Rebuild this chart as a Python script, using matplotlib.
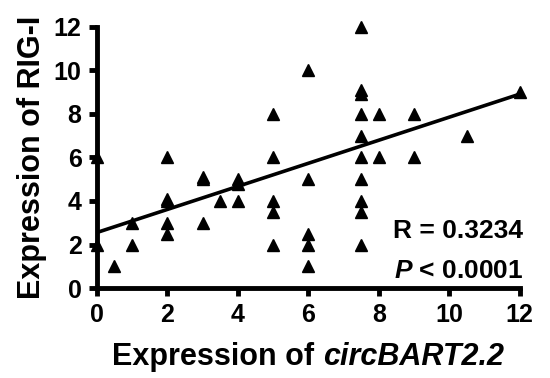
import matplotlib
matplotlib.use("Agg")
import numpy as np
import matplotlib.pyplot as plt

plt.rcParams['font.family'] = ['Liberation Sans', 'DejaVu Sans']
plt.rcParams['font.weight'] = 'bold'
plt.rcParams['mathtext.fontset'] = 'custom'
plt.rcParams['mathtext.it'] = 'Liberation Sans:italic:bold'
plt.rcParams['mathtext.rm'] = 'Liberation Sans:bold'

# expression values
circ_bart = [0, 0, 0.5, 1, 1, 2, 2, 2, 2, 2, 3, 3, 3, 3.5, 4, 4, 4, 5, 5, 5, 5, 5,
             6, 6, 6, 6, 6, 7.5, 7.5, 7.5, 7.5, 7.5, 7.5, 7.5, 7.5, 7.5, 7.5,
             8, 8, 9, 9, 10.5, 12]
rig_i = [6, 2, 1, 3, 2, 6, 4, 4.1, 3, 2.5, 5, 5.1, 3, 4, 5, 4.8, 4, 8, 6, 4, 3.5, 2,
         10, 5, 2.5, 2, 1, 12, 9.1, 8.9, 8, 7, 6, 5, 4, 3.5, 2,
         8, 6, 8, 6, 7, 9]

# regression line as drawn in the figure
fit_intercept = 2.55
fit_slope = 0.53

fig, ax = plt.subplots(figsize=(5.5, 3.78), dpi=100)
fig.subplots_adjust(left=0.176, right=0.945, bottom=0.238, top=0.929)

ax.plot(circ_bart, rig_i, '^', color='black', markersize=9, clip_on=False, zorder=3)

xs = np.array([0, 12])
ax.plot(xs, fit_slope * xs + fit_intercept, color='black', linewidth=2.6, zorder=2)

ax.set_xlim(0, 12)
ax.set_ylim(0, 12)
ax.set_xticks(range(0, 13, 2))
ax.set_yticks(range(0, 13, 2))
for s in ['top', 'right']:
    ax.spines[s].set_visible(False)
for s in ['left', 'bottom']:
    ax.spines[s].set_linewidth(3.5)
    ax.spines[s].set_zorder(4)
ax.tick_params(width=3.5, length=6, labelsize=18, pad=5)
for lab in ax.get_xticklabels() + ax.get_yticklabels():
    lab.set_fontweight('bold')

ax.set_ylabel("Expression of RIG-I", fontsize=22, fontweight='bold', labelpad=5)

# x label in two parts: upright + bold italic gene name
t1 = fig.text(0, 0.035, "Expression of ", fontsize=22, fontweight='bold', va='baseline')
t2 = fig.text(0, 0.035, "circBART2.2", fontsize=22, fontweight='bold', style='italic', va='baseline')
fig.canvas.draw()
r = fig.canvas.get_renderer()
w1 = t1.get_window_extent(r).width / fig.bbox.width
w2 = t2.get_window_extent(r).width / fig.bbox.width
x0 = (0.176 + 0.945) / 2 - (w1 + w2) / 2
t1.set_x(x0)
t2.set_x(x0 + w1)

ax.text(12.1, 2.6, "R = 0.3234", fontsize=19, fontweight='bold', ha='right', va='center')
ax.text(12.1, 0.78, "$\\it{P}$ < 0.0001", fontsize=19, fontweight='bold', ha='right', va='center')

fig.savefig("out.png", dpi=100)
